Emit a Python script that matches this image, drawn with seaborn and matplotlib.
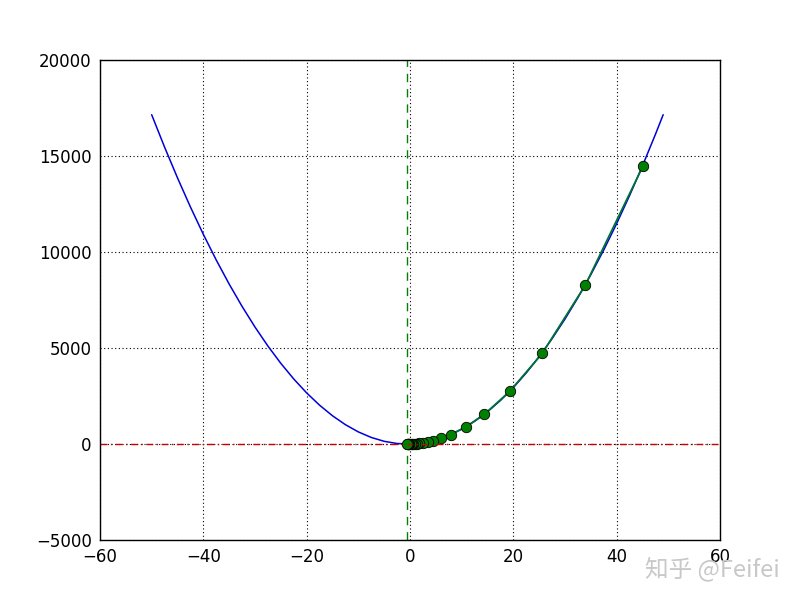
import matplotlib
matplotlib.use("Agg")
import matplotlib.pyplot as plt
import seaborn as sns
import pandas as pd

# Blue curve (function) values
curve_x = [-50, -47.5, -45, -42.5, -40, -37.5, -35, -32.5, -30, -27.5, -25, -22.5, -20, -17.5,
           -15, -12.5, -10, -7.5, -5, -2.5, 0, 2.5, 5, 7.5, 10, 12.5, 15, 17.5, 20, 22.5,
           25, 27.5, 30, 32.5, 35, 37.5, 40, 42.5, 45, 47.5, 49]
curve_y = [17150, 15461, 13860, 12346, 10920, 9581, 8330, 7166, 6090, 5101, 4200, 3386, 2660, 2021,
           1470, 1006, 630, 341, 140, 26, 0, 61, 210, 446, 770, 1181, 1680, 2266, 2940, 3701,
           4550, 5486, 6510, 7621, 8820, 10106, 11480, 12941, 14490, 16126, 17150]

# Green descent path points
path_x = [45.1, 33.9, 25.6, 19.3, 14.4, 10.8, 7.9, 6.0, 4.4, 3.4, 2.5, 1.8, 1.3, 0.9, 0.6, 0.3, 0.1, -0.1, -0.2, -0.3, -0.4, -0.45, -0.5]
path_y = [14480, 8260, 4720, 2740, 1550, 890, 490, 294, 166, 104, 61, 35, 21, 12, 7, 3, 1, -1, -1, -1.5, -1.7, -1.7, -1.75]

min_x = -0.5
zero_y = 0

sns.set_style("white")
plt.rcParams['font.family'] = ['DejaVu Sans', 'Noto Sans CJK SC']

fig = plt.figure(figsize=(8, 6), dpi=100)
ax = fig.add_axes([0.125, 0.1, 0.775, 0.8])

curve = pd.DataFrame({"x": curve_x, "y": curve_y})
path = pd.DataFrame({"x": path_x, "y": path_y})

sns.lineplot(data=curve, x="x", y="y", ax=ax, color=(0, 0, 0.85), linewidth=1.1, sort=False)
sns.lineplot(data=path, x="x", y="y", ax=ax, color=(0, 0.45, 0.2), linewidth=1.3, sort=False,
             marker="o", markersize=7.5, markerfacecolor=(0, 0.5, 0),
             markeredgecolor="black", markeredgewidth=0.6)

ax.axhline(zero_y, color=(0.8, 0, 0), linestyle=(0, (5, 2.5, 1, 2.5)), linewidth=1)
ax.axvline(min_x, color=(0, 0.5, 0), linestyle=(0, (6, 5)), linewidth=1)

ax.set_xlim(-60, 60)
ax.set_ylim(-5000, 20000)
ax.set_xticks([-60, -40, -20, 0, 20, 40, 60])
ax.set_yticks([-5000, 0, 5000, 10000, 15000, 20000])
ax.grid(True, color="black", linestyle=(0, (1, 2.3)), linewidth=0.8)
ax.set_xlabel("")
ax.set_ylabel("")
ax.tick_params(labelsize=12, length=0, pad=6, colors="black")
for s in ax.spines.values():
    s.set_color("black")
    s.set_linewidth(1)

fig.text(0.975, 0.052, "知乎 @Feifei", ha="right", va="center", fontsize=17,
         color="#c8c8c8", family=['Noto Sans CJK SC', 'DejaVu Sans'])

fig.savefig("out.png", dpi=100, facecolor="white")
